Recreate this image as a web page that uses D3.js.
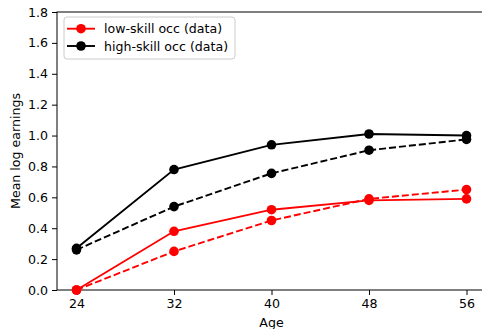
<!DOCTYPE html>
<html>
<head>
<meta charset="utf-8">
<script src="https://cdn.jsdelivr.net/npm/d3@7"></script>
<style>
  body { margin: 0; background: #fff; }
  text { font-family: "DejaVu Sans", sans-serif; fill: #000; }
</style>
</head>
<body>
<div id="vis"></div>
<script>
const ages = [24, 32, 40, 48, 56]
const lowData = [0.0, 0.38, 0.52, 0.58, 0.59]
const highData = [0.27, 0.78, 0.94, 1.01, 1.00]
const lowModel = [0.0, 0.25, 0.45, 0.59, 0.65]
const highModel = [0.26, 0.54, 0.755, 0.905, 0.975]
const yTicks = [0, 0.2, 0.4, 0.6, 0.8, 1.0, 1.2, 1.4, 1.6, 1.8]

const W = 482, H = 329
const margin = {left: 57, top: 12, right: -4, bottom: 39}
const fontSize = '12.6px'

const svg = d3.select('#vis').append('svg')
    .attr('width', W)
    .attr('height', H)

const x = d3.scaleLinear()
    .domain([22.4, 57.6])
    .range([margin.left, W - margin.right])

const y = d3.scaleLinear()
    .domain([0, 1.8])
    .range([H - margin.bottom, margin.top])

// axes
let xAxis = d3.axisBottom(x).tickValues(ages).tickSize(5).tickPadding(4).tickFormat(d3.format('d'))
let yAxis = d3.axisLeft(y).tickValues(yTicks).tickSize(5).tickPadding(4).tickFormat(d3.format('.1f'))

svg.append('g')
    .attr('transform', `translate(0,${H - margin.bottom})`)
    .call(xAxis)
    .call(g => g.select('.domain').remove())
    .call(g => g.selectAll('text').attr('font-size', fontSize).attr('fill', '#000'))

svg.append('g')
    .attr('transform', `translate(${margin.left},0)`)
    .call(yAxis)
    .call(g => g.select('.domain').remove())
    .call(g => g.selectAll('text').attr('font-size', fontSize).attr('fill', '#000'))

// spines
svg.append('rect')
    .attr('x', margin.left)
    .attr('y', margin.top)
    .attr('width', x(57.6) - margin.left)
    .attr('height', y(0) - margin.top)
    .attr('fill', 'none')
    .attr('stroke', '#000')
    .attr('stroke-width', 1)

// series
const series = [
    {vals: lowData, color: '#ff0000', dash: null},
    {vals: highData, color: '#000000', dash: null},
    {vals: lowModel, color: '#ff0000', dash: '7,3'},
    {vals: highModel, color: '#000000', dash: '7,3'}
]

const line = d3.line()
    .x((d, i) => x(ages[i]))
    .y(d => y(d))

series.forEach(s => {
    svg.append('path')
        .datum(s.vals)
        .attr('d', line)
        .attr('fill', 'none')
        .attr('stroke', s.color)
        .attr('stroke-width', 1.9)
        .attr('stroke-dasharray', s.dash)
    svg.selectAll(null)
        .data(s.vals)
        .enter()
        .append('circle')
            .attr('cx', (d, i) => x(ages[i]))
            .attr('cy', d => y(d))
            .attr('r', 4.8)
            .attr('fill', s.color)
})

// axis labels
svg.append('text')
    .attr('x', x(40))
    .attr('y', H - 2.5)
    .attr('text-anchor', 'middle')
    .attr('font-size', fontSize)
    .text('Age')

svg.append('text')
    .attr('transform', `translate(19.5,${(y(0) + y(1.8)) / 2}) rotate(-90)`)
    .attr('text-anchor', 'middle')
    .attr('font-size', fontSize)
    .text('Mean log earnings')

// legend
const legendItems = [
    {label: 'low-skill occ (data)', color: '#ff0000'},
    {label: 'high-skill occ (data)', color: '#000000'}
]

let lg = svg.append('g').attr('transform', 'translate(64,17)')
lg.append('rect')
    .attr('width', 171)
    .attr('height', 42)
    .attr('rx', 3)
    .attr('fill', '#fff')
    .attr('fill-opacity', 0.8)
    .attr('stroke', '#cccccc')

legendItems.forEach((d, i) => {
    let yy = 11.7 + i * 17.3
    lg.append('line')
        .attr('x1', 3).attr('x2', 31)
        .attr('y1', yy).attr('y2', yy)
        .attr('stroke', d.color)
        .attr('stroke-width', 1.9)
    lg.append('circle')
        .attr('cx', 17).attr('cy', yy).attr('r', 4.8)
        .attr('fill', d.color)
    lg.append('text')
        .attr('x', 40)
        .attr('y', yy + 4.5)
        .attr('font-size', fontSize)
        .text(d.label)
})
</script>
</body>
</html>
